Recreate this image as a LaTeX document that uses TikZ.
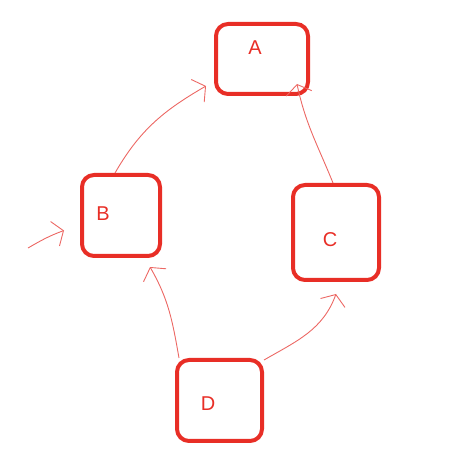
\documentclass[tikz,border=0pt]{standalone}
\usepackage{fontspec}
\setmainfont{Liberation Sans}
\usetikzlibrary{arrows.meta}
\definecolor{boxred}{RGB}{232,46,38}
\definecolor{penred}{RGB}{236,104,100}
\tikzset{
  box/.style={
    draw=boxred,
    rounded corners=12pt,
    line width=4pt,
    inner sep=0pt
  },
  letter/.style={
    text=boxred,
    font=\fontsize{20}{24}\selectfont,
    inner sep=0pt
  },
  link/.style={
    draw=penred,
    line width=0.9pt,
    -{Straight Barb[length=9pt,width=26pt]}
  }
}
\begin{document}
\begin{tikzpicture}[x=1pt,y=1pt]
  \useasboundingbox (0,0) rectangle (471,463);
  \node[box, minimum width=92pt, minimum height=70pt] (A) at (262,404) {};
  \node[box, minimum width=78pt, minimum height=81pt] (B) at (121,247.5) {};
  \node[box, minimum width=86pt, minimum height=95pt] (C) at (336,230.5) {};
  \node[box, minimum width=85pt, minimum height=81pt] (D) at (219.5,62.5) {};
  \node[letter] (labA) at (255,415) {A};
  \node[letter] (labB) at (103,249) {B};
  \node[letter] (labC) at (330,223) {C};
  \node[letter] (labD) at (208,59) {D};
  \coordinate (start) at (28,215);
  \draw[link] (start) to[out=30,in=200] ([xshift=-16pt,yshift=-15pt]B.west);
  \draw[link] ([xshift=-6pt]B.north) to[out=60,in=210] ([xshift=-8pt,yshift=10pt]A.south west);
  \draw[link] ([xshift=-3pt]C.north) to[out=112,in=-78] ([xshift=-13pt,yshift=12pt]A.south east);
  \draw[link] ([xshift=4pt]D.north west) to[out=100,in=-60] ([xshift=-12pt,yshift=-9pt]B.south east);
  \draw[link] ([yshift=-2pt]D.north east) to[out=30,in=250] ([yshift=-12pt]C.south);
\end{tikzpicture}
\end{document}
